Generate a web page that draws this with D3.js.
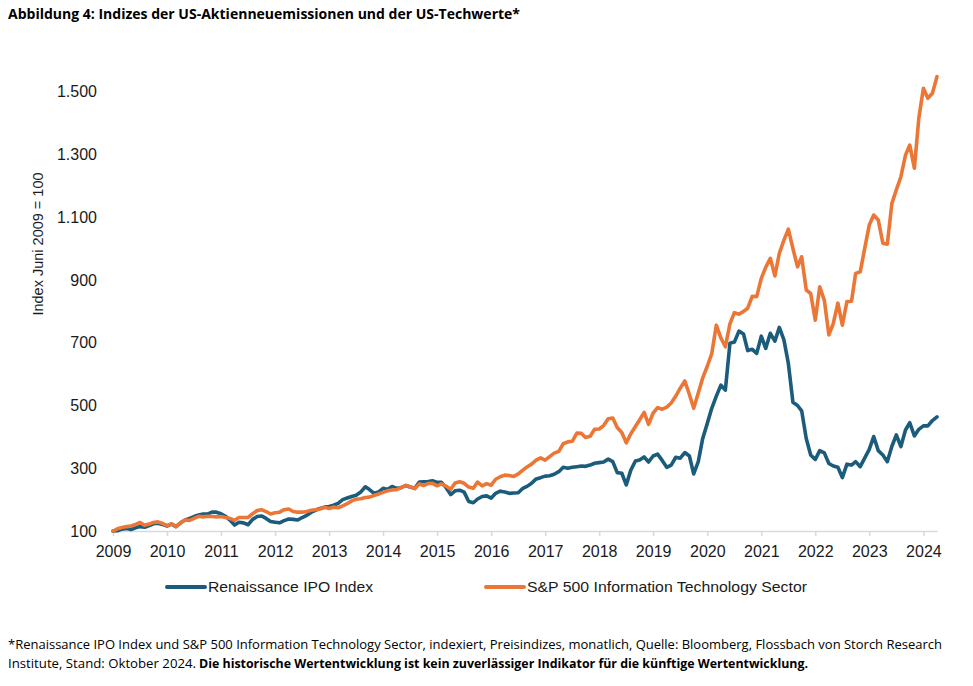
<!DOCTYPE html>
<html lang="de">
<head>
<meta charset="utf-8">
<title>Abbildung 4</title>
<script src="https://cdn.jsdelivr.net/npm/d3@7.9.0/dist/d3.min.js"></script>
<style>
  html, body { margin: 0; padding: 0; background: #fff; }
  svg { display: block; }
</style>
</head>
<body>
<div id="chart"></div>
<script>
// ━━━━━━━━━━━━━━━ Data (monthly, Juni 2009 = 100) ━━━━━━━━━━━━━━━

const START_MONTH = new Date(2009, 5, 1);   // Juni 2009
const YEARS = d3.range(2009, 2025);
const Y_TICKS = [100, 300, 500, 700, 900, 1100, 1300, 1500];

const SERIES_NAMES = ['Renaissance IPO Index', 'S&P 500 Information Technology Sector'];

const ipoValues = [
    100, 101, 106, 108, 105, 110, 114, 112, 117, 123, 125, 121,
    116, 122, 114, 126, 135, 140, 146, 151, 154, 154, 160, 160,
    155, 147, 135, 119, 128, 126, 120, 137, 146, 148, 140, 130,
    128, 126, 133, 138, 137, 135, 143, 150, 160, 166, 172, 176,
    178, 182, 188, 200, 205, 210, 214, 224, 241, 232, 220, 224,
    236, 232, 242, 236, 238, 245, 240, 236, 256, 257, 258, 260,
    255, 255, 238, 216, 228, 230, 224, 194, 190, 202, 210, 212,
    205, 220, 227, 224, 220, 221, 222, 236, 243, 252, 266, 270,
    275, 276, 281, 289, 303, 300, 303, 305, 307, 306, 310, 316,
    318, 320, 329, 321, 286, 284, 247, 294, 323, 326, 336, 320,
    339, 345, 325, 303, 310, 335, 332, 350, 339, 282, 321, 395,
    443, 491, 530, 565, 549, 698, 702, 737, 728, 675, 679, 666,
    721, 682, 730, 705, 749, 709, 634, 510, 500, 483, 395, 342,
    328, 356, 349, 315, 307, 303, 270, 313, 310, 321, 305, 332,
    360, 401, 356, 342, 321, 370, 406, 369, 422, 445, 403, 424,
    435, 435, 452, 464
];

const techValues = [
    100, 107, 111, 114, 116, 121, 127, 118, 122, 127, 129, 124,
    117, 123, 114, 126, 135, 134, 140, 147, 145, 147, 146, 145,
    146, 143, 140, 134, 143, 143, 143, 155, 165, 168, 162, 154,
    158, 160, 168, 170, 162, 160, 160, 162, 166, 168, 170, 176,
    172, 176, 174, 180, 187, 196, 201, 203, 207, 208, 213, 218,
    223, 228, 231, 232, 238, 245, 241, 235, 250, 245, 251, 252,
    244, 250, 243, 233, 253, 257, 252, 240, 236, 256, 244, 251,
    246, 265, 273, 278, 277, 274, 282, 294, 305, 313, 326, 333,
    326, 337, 348, 354, 378, 384, 386, 412, 411, 398, 402, 424,
    425, 436, 458, 460, 430, 414, 381, 410, 433, 454, 478, 440,
    476, 493, 488, 495, 508, 530, 555, 578, 535, 491, 540, 588,
    625, 665, 756, 715, 687, 760, 796, 791, 800, 810, 848, 847,
    905, 940, 969, 913, 985, 1027, 1062, 1000, 942, 974, 868, 857,
    772, 878, 836, 725, 762, 826, 756, 831, 832, 921, 926, 1000,
    1075, 1107, 1091, 1017, 1014, 1144, 1187, 1229, 1298, 1330, 1256, 1415,
    1511, 1479, 1495, 1548
];

// ━━━━━━━━━━━━━━━ Theme ━━━━━━━━━━━━━━━

const WIDTH = 973;
const HEIGHT = 686;
const COLORS = ['#1b5b7c', '#ec7636'];
const AXIS_COLOR = '#d9d9d9';
const TEXT_COLOR = '#1a1a1a';
const SANS = 'Liberation Sans, Arial, sans-serif';
const NOTE_FONT = 'Open Sans, Lato, sans-serif';

const de = d3.formatLocale({ decimal: ',', thousands: '.', grouping: [3], currency: ['', ' €'] });
const fmtNum = de.format(',');

const dates = ipoValues.map((_, i) => d3.timeMonth.offset(START_MONTH, i));
const series = [ipoValues, techValues];

// ━━━━━━━━━━━━━━━ Chart ━━━━━━━━━━━━━━━

const svg = d3.select('#chart')
    .append('svg')
    .attr('width', WIDTH)
    .attr('height', HEIGHT)
    .attr('viewBox', `0 0 ${WIDTH} ${HEIGHT}`);

const x = d3.scaleTime()
    .domain([dates[0], dates[dates.length - 1]])
    .range([113, 937]);

const y = d3.scaleLinear()
    .domain([100, 1500])
    .range([531, 91.7]);

// Title
svg.append('text')
    .attr('x', 8)
    .attr('y', 19)
    .attr('font-family', NOTE_FONT)
    .attr('font-weight', 700)
    .attr('font-size', '14.5px')
    .attr('fill', '#000')
    .attr('textLength', 512)
    .attr('lengthAdjust', 'spacingAndGlyphs')
    .text('Abbildung 4: Indizes der US-Aktienneuemissionen und der US-Techwerte*');

// Y axis (labels only)
const yAxis = svg.append('g')
    .attr('transform', 'translate(113,0)')
    .call(d3.axisLeft(y).tickValues(Y_TICKS).tickSize(0).tickPadding(16).tickFormat(fmtNum));
yAxis.select('.domain').remove();
yAxis.selectAll('text')
    .attr('font-family', SANS)
    .attr('font-size', '16px')
    .attr('fill', TEXT_COLOR);

svg.append('text')
    .attr('transform', 'translate(43,244) rotate(-90)')
    .attr('text-anchor', 'middle')
    .attr('font-family', SANS)
    .attr('font-size', '14.5px')
    .attr('fill', TEXT_COLOR)
    .text('Index Juni 2009 = 100');

// X axis
const xAxis = svg.append('g')
    .attr('transform', `translate(0,${y(100)})`)
    .call(d3.axisBottom(x)
        .tickValues(YEARS.map(yr => new Date(yr, 5, 1)))
        .tickSize(5)
        .tickSizeOuter(0)
        .tickPadding(10)
        .tickFormat(d3.timeFormat('%Y')));
xAxis.select('.domain').attr('stroke', AXIS_COLOR).attr('stroke-width', 1.5);
xAxis.selectAll('.tick line').attr('stroke', AXIS_COLOR).attr('stroke-width', 1.5);
xAxis.selectAll('text')
    .attr('font-family', SANS)
    .attr('font-size', '16px')
    .attr('fill', TEXT_COLOR);

// Lines
const line = d3.line()
    .x((_, i) => x(dates[i]))
    .y(d => y(d));

svg.append('g')
    .selectAll('path')
    .data(series)
    .join('path')
    .attr('d', line)
    .attr('fill', 'none')
    .attr('stroke', (_, i) => COLORS[i])
    .attr('stroke-width', 3.6)
    .attr('stroke-linejoin', 'round')
    .attr('stroke-linecap', 'round');

// Legend
const legendX = [167, 486];
const legend = svg.append('g')
    .selectAll('g')
    .data(SERIES_NAMES)
    .join('g')
    .attr('transform', (_, i) => `translate(${legendX[i]},587)`);

legend.append('line')
    .attr('x1', 0).attr('x2', 38)
    .attr('stroke', (_, i) => COLORS[i])
    .attr('stroke-width', 4)
    .attr('stroke-linecap', 'round');

legend.append('text')
    .attr('x', 41)
    .attr('dy', '0.35em')
    .attr('font-family', SANS)
    .attr('font-size', '15px')
    .attr('fill', TEXT_COLOR)
    .attr('textLength', (_, i) => [165, 280][i])
    .attr('lengthAdjust', 'spacingAndGlyphs')
    .text(d => d);

// Footnote
const note = svg.append('g')
    .attr('font-family', NOTE_FONT)
    .attr('font-size', '12.5px')
    .attr('fill', '#000');

note.append('text')
    .attr('x', 8).attr('y', 649)
    .attr('textLength', 934)
    .attr('lengthAdjust', 'spacingAndGlyphs')
    .text('*Renaissance IPO Index und S&P 500 Information Technology Sector, indexiert, Preisindizes, monatlich, Quelle: Bloomberg, Flossbach von Storch Research');

note.append('text')
    .attr('x', 8).attr('y', 668)
    .attr('textLength', 188)
    .attr('lengthAdjust', 'spacingAndGlyphs')
    .text('Institute, Stand: Oktober 2024.');

note.append('text')
    .attr('x', 199).attr('y', 668)
    .attr('font-weight', 700)
    .attr('textLength', 609)
    .attr('lengthAdjust', 'spacingAndGlyphs')
    .text('Die historische Wertentwicklung ist kein zuverlässiger Indikator für die künftige Wertentwicklung.');
</script>
</body>
</html>
